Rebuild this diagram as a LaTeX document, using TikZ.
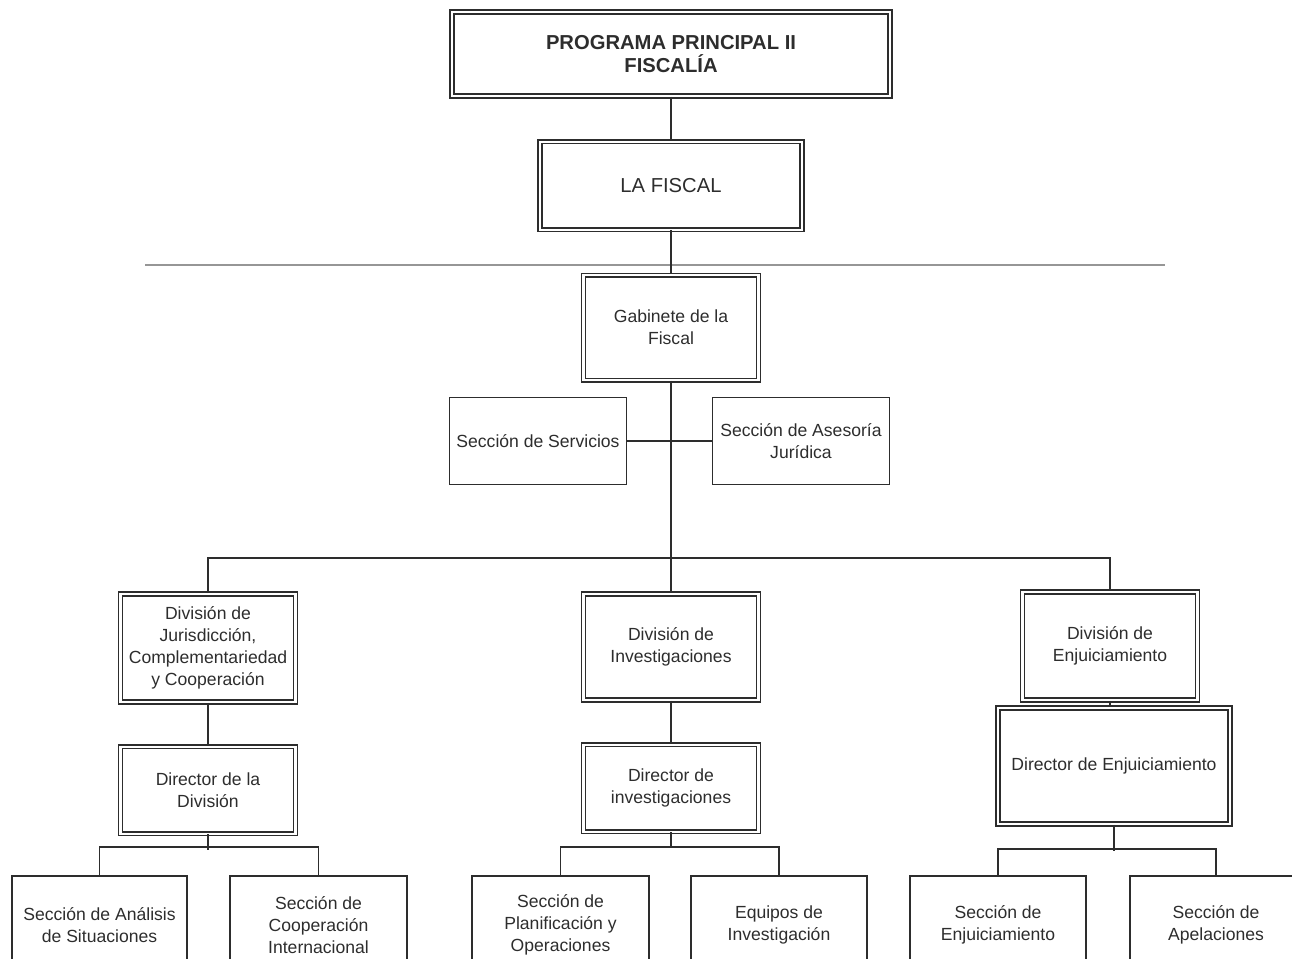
\documentclass[tikz,border=0pt]{standalone}
\usepackage{fontspec}
\setmainfont{Liberation Sans}
\usetikzlibrary{positioning}
\definecolor{inkgray}{RGB}{45,45,45}
\definecolor{scangray}{RGB}{150,150,150}
\tikzset{
  unit/.style={
    draw=inkgray,
    double,
    double distance=1.2pt,
    line width=0.9pt,
    align=center,
    inner sep=2pt,
    text=inkgray,
    minimum width=3.5cm,
    minimum height=1.74cm,
    font=\fontsize{10}{12.5}\selectfont
  },
  titleunit/.style={unit, font=\fontsize{11.5}{13.6}\selectfont},
  section/.style={
    draw=inkgray,
    line width=0.9pt,
    align=center,
    inner sep=2pt,
    text=inkgray,
    minimum width=3.54cm,
    minimum height=1.74cm,
    font=\fontsize{10}{12.5}\selectfont
  },
  link/.style={line width=0.9pt, draw=inkgray},
  scanline/.style={line width=0.6pt, draw=scangray}
}
\begin{document}
\begin{tikzpicture}
        \useasboundingbox (0,0) rectangle (25.84,-19.16);
        \draw[scanline] (2.9,-5.3) -- (23.3,-5.3);
        % top of the chart
        \node[titleunit, font=\bfseries\fontsize{11.5}{13.6}\selectfont, minimum width=8.76cm, minimum height=1.68cm] (prog) at (13.42,-1.08) {PROGRAMA PRINCIPAL II\\FISCALÍA};
        \node[titleunit, minimum width=5.24cm, minimum height=1.76cm, below=0.88cm of prog] (fiscal) {LA FISCAL};
        \node[unit, minimum height=2.1cm, below=0.88cm of fiscal] (gabinete) {Gabinete de la\\Fiscal};
        \node[section] (servicios) at (10.76,-8.82) {Sección de Servicios};
        \node[section] (asesoria) at (16.02,-8.82) {Sección de Asesoría\\Jurídica};
        % divisions
        \node[unit, minimum height=2.16cm] (divjur) at (4.16,-12.96) {División de\\Jurisdicción,\\Complementariedad\\y Cooperación};
        \node[unit, minimum height=2.12cm] (divinv) at (13.42,-12.94) {División de\\Investigaciones};
        \node[unit, minimum height=2.16cm] (divenj) at (22.2,-12.92) {División de\\Enjuiciamiento};
        \node[unit, below=0.86cm of divjur] (dirdiv) {Director de la\\División};
        \node[unit, below=0.86cm of divinv] (dirinv) {Director de\\investigaciones};
        \node[unit, minimum width=4.64cm, minimum height=2.32cm] (direnj) at (22.28,-15.32) {Director de Enjuiciamiento};
        % sections
        \node[section, minimum width=3.5cm, minimum height=1.96cm] (analisis) at (1.99,-18.5) {Sección de Análisis\\de Situaciones};
        \node[section, minimum width=3.54cm, minimum height=1.96cm] (cooperacion) at (6.37,-18.5) {Sección de\\Cooperación\\Internacional};
        \node[section, minimum width=3.54cm, minimum height=1.96cm] (planificacion) at (11.21,-18.5) {Sección de\\Planificación y\\Operaciones};
        \node[section, minimum width=3.52cm, minimum height=1.96cm] (equipos) at (15.58,-18.5) {Equipos de\\Investigación};
        \node[section, minimum width=3.52cm, minimum height=1.96cm] (seccenj) at (19.96,-18.5) {Sección de\\Enjuiciamiento};
        \node[section, minimum width=3.44cm, minimum height=1.96cm] (apelaciones) at (24.32,-18.5) {Sección de\\Apelaciones};
        % connectors
        \coordinate (bus) at (13.42,-11.16);
        \draw[link] (prog) -- (fiscal);
        \draw[link] (fiscal) -- (gabinete);
        \draw[link] (gabinete) -- (divinv);
        \draw[link] (servicios) -- (asesoria);
        \draw[link] (divjur.north) |- (bus) -| (divenj.north);
        \draw[link] (divjur) -- (dirdiv);
        \draw[link] (divinv) -- (dirinv);
        \draw[link] (divenj.south) -- (divenj.south |- direnj.north);
        \draw[link] (dirdiv.south) -- ++(0,-0.32);
        \draw[link] (analisis.north) -- ++(0,0.56) -| (cooperacion.north);
        \draw[link] (dirinv.south) -- ++(0,-0.32);
        \draw[link] (planificacion.north) -- ++(0,0.56) -| (equipos.north);
        \draw[link] (direnj.south) -- ++(0,-0.52);
        \draw[link] (seccenj.north) -- ++(0,0.52) -| (apelaciones.north);
\end{tikzpicture}
\end{document}
